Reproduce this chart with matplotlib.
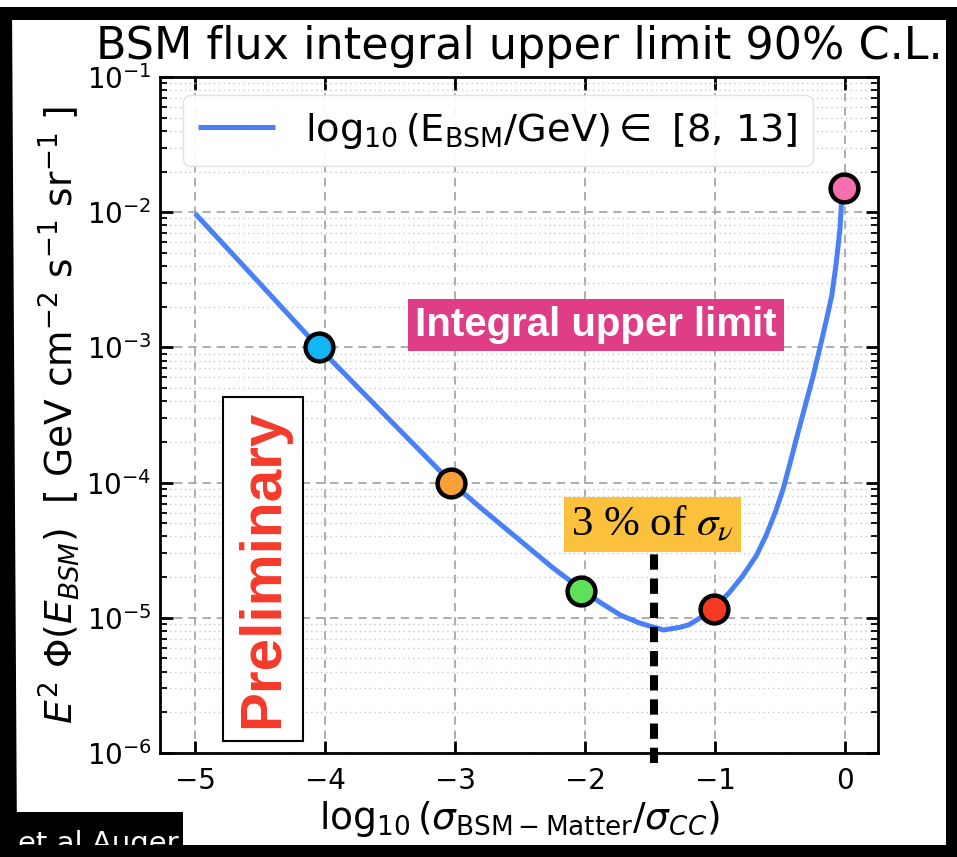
import matplotlib
matplotlib.use("Agg")
import matplotlib.pyplot as plt
from matplotlib.patches import Rectangle, Polygon
from matplotlib.ticker import LogLocator, NullFormatter, FixedLocator

# ---------------------------------------------------------------- data
# BSM flux upper limit versus log10 of the BSM-matter cross-section ratio
curve_log_sigma = [-5.00, -4.50, -4.05, -3.50, -3.03, -2.80, -2.65, -2.45,
                   -2.25, -2.03, -1.88, -1.73, -1.58, -1.40, -1.27, -1.20,
                   -1.10, -1.00, -0.89, -0.79, -0.685, -0.61, -0.54, -0.48,
                   -0.43, -0.376, -0.312, -0.248, -0.196, -0.145, -0.106,
                   -0.073, -0.042, -0.029, -0.013]
curve_log_flux = [-2.01, -2.53, -3.00, -3.54, -4.00, -4.19, -4.31, -4.47,
                  -4.63, -4.79, -4.89, -4.98, -5.04, -5.09, -5.07, -5.05,
                  -4.99, -4.92, -4.81, -4.69, -4.54, -4.39, -4.22, -4.05,
                  -3.87, -3.67, -3.44, -3.21, -3.00, -2.79, -2.62,
                  -2.39, -2.12, -1.90, -1.82]
curve_flux = [10.0 ** v for v in curve_log_flux]

# highlighted benchmark points
point_log_sigma = [-4.05, -3.03, -2.03, -1.01, -0.013]
point_flux = [1.0e-3, 1.0e-4, 1.58e-5, 1.16e-5, 1.52e-2]
point_colors = ["#12b5f5", "#f7a035", "#5fe05a", "#f53a22", "#f56fae"]

# position of 3 % of the neutrino cross-section
nu_fraction_log_sigma = -1.47

x_ticks = [-5, -4, -3, -2, -1, 0]
y_ticks = [1e-6, 1e-5, 1e-4, 1e-3, 1e-2, 1e-1]

title = "BSM flux integral upper limit 90% C.L."
x_label = r"$\log_{10}(\sigma_{\rm BSM-Matter}/\sigma_{CC})$"
y_label = r"$E^2\ \Phi(E_{BSM})$  [ GeV cm$^{-2}$ s$^{-1}$ sr$^{-1}$ ]"
legend_label = r"$\log_{10}(\mathrm{E_{BSM}/GeV}) \in$ [8, 13]"

# ---------------------------------------------------------------- figure
W, H, DPI = 957, 857, 100
plt.rcParams["font.family"] = ["DejaVu Sans"]
plt.rcParams["mathtext.fontset"] = "dejavusans"

fig = plt.figure(figsize=(W / DPI, H / DPI), dpi=DPI, facecolor="white")


def fig_box(x0, y0, x1, y1):
    """pixel box (top-left origin) -> figure fraction rectangle"""
    return (x0 / W, 1 - y1 / H, (x1 - x0) / W, (y1 - y0) / H)


ax = fig.add_axes(fig_box(160, 77, 878, 753))
ax.set_yscale("log")
ax.set_xlim(-5.27, 0.25)
ax.set_ylim(1e-6, 1e-1)

ax.plot(curve_log_sigma, curve_flux, color="#4a80f5", lw=3.6,
        solid_capstyle="butt", solid_joinstyle="round", zorder=3,
        label=legend_label)
for xs, ys, c in zip(point_log_sigma, point_flux, point_colors):
    ax.plot([xs], [ys], "o", ms=20, mfc=c, mec="black", mew=3.2, zorder=6)

# vertical marker for 3 % of sigma_nu
ax.plot([nu_fraction_log_sigma, nu_fraction_log_sigma],
        [10 ** -6.075, 10 ** -4.45], color="black", lw=5.8,
        linestyle=(0, (1.9, 1.1)), zorder=4, clip_on=False)

# grids and ticks
ax.xaxis.set_major_locator(FixedLocator(x_ticks))
ax.yaxis.set_major_locator(FixedLocator(y_ticks))
ax.yaxis.set_minor_locator(LogLocator(base=10, subs=range(2, 10), numticks=20))
ax.yaxis.set_minor_formatter(NullFormatter())
ax.grid(which="major", linestyle=(0, (5, 3.5)), color="#a0a0a0", lw=1.2, zorder=0)
ax.grid(which="minor", axis="y", linestyle=(0, (1, 2.5)), color="#c8c8c8",
        lw=1.0, zorder=0)
ax.set_axisbelow(True)
ax.tick_params(which="both", direction="in", top=True, right=True)
ax.tick_params(which="major", length=9, width=2.0, labelsize=20)
ax.tick_params(which="minor", length=5, width=1.3)
ax.tick_params(axis="x", which="major", pad=10)
ax.tick_params(axis="y", which="major", pad=6)
for s in ax.spines.values():
    s.set_linewidth(2.0)

ax.set_title(title, fontsize=32, pad=13)
ax.set_xlabel(x_label, fontsize=27, labelpad=3)
ax.set_ylabel(y_label, fontsize=27, labelpad=4)

leg = ax.legend(loc="upper left", bbox_to_anchor=(0.032, 0.973),
                borderaxespad=0, fontsize=27.5, fancybox=True, framealpha=0.92,
                edgecolor="#e0e0e0", handlelength=2.0)
leg.get_frame().set_linewidth(1.0)
leg.set_zorder(7)

# annotation boxes
ax.text(0.607, 0.633, "Integral upper limit", transform=ax.transAxes,
        ha="center", va="center", fontsize=29, fontweight="bold",
        family="Liberation Sans", color="white", zorder=8,
        bbox=dict(boxstyle="square,pad=0.18", fc="#df3d86", ec="none"))
ax.text(0.686, 0.338, r"3 % of $\sigma_\nu$", transform=ax.transAxes,
        ha="center", va="center", fontsize=31, family="Liberation Serif",
        math_fontfamily="stix", color="black", zorder=8,
        bbox=dict(boxstyle="square,pad=0.17", fc="#fbc03c", ec="none"))
ax.text(0.143, 0.272, "Preliminary", transform=ax.transAxes, rotation=90,
        ha="center", va="center", fontsize=42, fontweight="bold",
        family="Liberation Sans", color="#f53a2a", zorder=8,
        bbox=dict(boxstyle="square,pad=0.22", fc="white", ec="black", lw=1.5))

# ---------------------------------------------------------------- frame
frame_kw = dict(transform=fig.transFigure, color="black", lw=0)
tb = fig_box(0, 7, W, 20)
fig.add_artist(Rectangle(tb[:2], tb[2], tb[3], zorder=20, **frame_kw))
fig.add_artist(Polygon([(0, 1 - 7 / H), (12 / W, 1 - 7 / H),
                        (17 / W, 1 - 845 / H), (0, 0)], closed=True,
                       zorder=20, **frame_kw))
rb = fig_box(946, 7, W, H)
fig.add_artist(Rectangle(rb[:2], rb[2], rb[3], zorder=20, **frame_kw))
bb = fig_box(0, 845, W, H)
fig.add_artist(Rectangle(bb[:2], bb[2], bb[3], zorder=22, **frame_kw))
cb = fig_box(0, 812, 183, 845)
fig.add_artist(Rectangle(cb[:2], cb[2], cb[3], zorder=20, **frame_kw))
fig.text(18 / W, 1 - 852 / H, "et al Auger", color="white", fontsize=21,
         va="baseline", ha="left", zorder=21)

fig.savefig("out.png", dpi=DPI, facecolor="white")
